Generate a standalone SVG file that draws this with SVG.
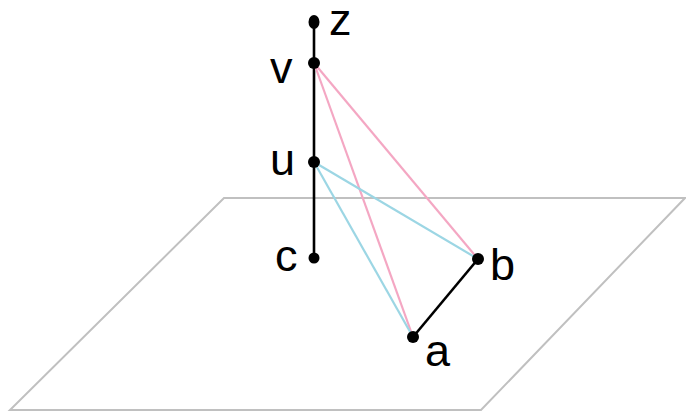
<svg xmlns="http://www.w3.org/2000/svg" width="686" height="413" viewBox="0 0 686 413">
<style>
.lbl{font-family:"Liberation Sans","DejaVu Sans",sans-serif;font-size:45px;fill:#000}
.dot{fill:#000}
.pink{stroke:#F4A7C3;stroke-width:2.2;fill:none}
.blue{stroke:#9CD6E4;stroke-width:2.2;fill:none}
.blk{stroke:#000;stroke-width:2.6;fill:none}
</style>
<rect width="686" height="413" fill="#fff"/>
<g id="plane"><polygon points="224,198 685,198 481,410 10,410" fill="none" stroke="#c0c0c0" stroke-width="2"/></g>
<g id="connectors">
<line class="blk" x1="314" y1="22" x2="314" y2="258"/>
<line class="pink" x1="314" y1="63" x2="478" y2="259"/>
<line class="pink" x1="314" y1="63" x2="413" y2="337"/>
<line class="blue" x1="314" y1="162" x2="478" y2="259"/>
<line class="blue" x1="314" y1="162" x2="413" y2="337"/>
<line class="blk" x1="413" y1="337" x2="478" y2="259"/>
</g>
<g id="node-z"><ellipse class="dot" cx="314" cy="22" rx="5.5" ry="7"/><text class="lbl" x="329" y="35">z</text></g>
<g id="node-v"><circle class="dot" cx="314" cy="63" r="6"/><text class="lbl" x="270" y="83">v</text></g>
<g id="node-u"><circle class="dot" cx="314" cy="162" r="6"/><text class="lbl" x="270" y="175">u</text></g>
<g id="node-c"><circle class="dot" cx="314" cy="258" r="5.5"/><text class="lbl" x="275" y="271">c</text></g>
<g id="node-b"><circle class="dot" cx="478" cy="259" r="6"/><text class="lbl" x="490" y="280">b</text></g>
<g id="node-a"><circle class="dot" cx="413" cy="337" r="6"/><text class="lbl" x="425" y="366">a</text></g>
</svg>
